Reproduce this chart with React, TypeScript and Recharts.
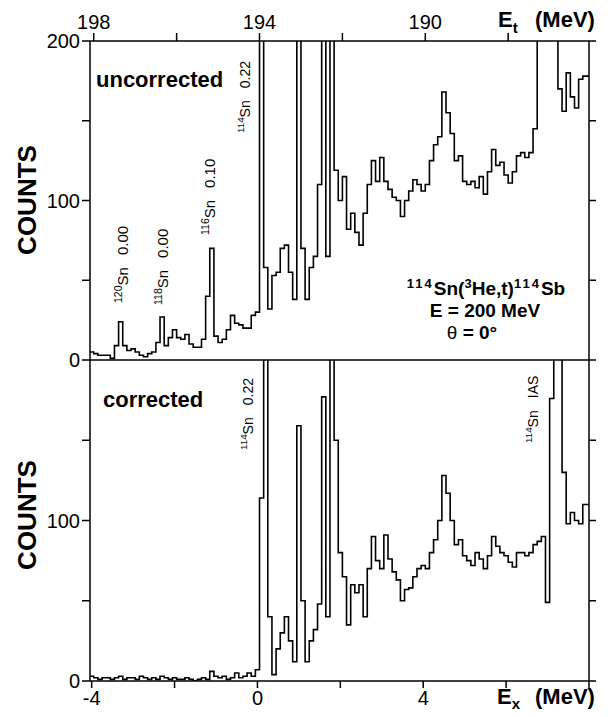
import React from "react";
import { LineChart, Line, XAxis, YAxis, ReferenceLine } from "recharts";

// 0.1 MeV bins in E_x, first bin starting at -4.05 MeV
const BIN_START = -4.05;
const BIN_WIDTH = 0.1;
const X_END = 8;

// values above 200 run off the top of the frame
const uncorrectedCounts = [
  5, 4, 3, 3, 3, 1, 9, 24, 9, 6,
  7, 5, 3, 2, 4, 5, 11, 27, 9, 14,
  19, 14, 13, 16, 10, 8, 8, 13, 40, 70,
  15, 11, 13, 19, 28, 23, 22, 20, 20, 28,
  30, 250, 58, 32, 53, 55, 70, 72, 55, 38,
  250, 70, 38, 58, 65, 110, 250, 65, 250, 119,
  100, 115, 82, 92, 80, 72, 92, 110, 125, 112,
  127, 112, 107, 102, 100, 90, 100, 106, 113, 110,
  106, 110, 125, 135, 140, 168, 155, 142, 125, 128,
  112, 110, 112, 108, 115, 104, 118, 132, 122, 124,
  116, 111, 118, 128, 130, 127, 130, 145, 250, 250,
  250, 250, 250, 170, 156, 180, 165, 158, 176, 178,
];

const correctedCounts = [
  3, 2, 1, 2, 2, 1, 2, 3, 1, 2,
  2, 1, 3, 2, 1, 2, 1, 3, 2, 1,
  2, 1, 1, 2, 1, 0, 1, 2, 1, 6,
  3, 2, 3, 1, 2, 5, 2, 3, 5, 3,
  7, 114, 250, 40, 4, 20, 30, 40, 25, 12,
  159, 50, 12, 25, 32, 48, 177, 40, 250, 150,
  80, 65, 35, 60, 55, 60, 40, 70, 90, 75,
  70, 91, 76, 68, 63, 50, 57, 58, 65, 70,
  72, 70, 80, 88, 100, 128, 117, 100, 85, 88,
  78, 75, 72, 80, 76, 70, 78, 90, 84, 80,
  78, 74, 71, 80, 80, 78, 80, 85, 87, 90,
  49, 176, 250, 250, 130, 98, 105, 100, 98, 110,
];

const exTicks = [-4, -2, 0, 2, 4, 6, 8];
const exLabels = [-4, 0, 4];
const etTicks = [198, 196, 194, 192, 190, 188];
const etLabels = [198, 194, 190];
const ET_SUM = 194.05; // E_t = ET_SUM - E_x
const countTicksTop = [0, 50, 100, 150, 200];
const countTicksBottom = [0, 50, 100, 150];

const FONT = "'Liberation Sans', Arial, Helvetica, sans-serif";
const INK = "#000";

function toSteps(counts: number[]) {
  const pts = counts.map((c, i) => ({ x: +(BIN_START + i * BIN_WIDTH).toFixed(2), y: c }));
  pts.push({ x: X_END, y: counts[counts.length - 1] });
  return pts;
}

const topData = toSteps(uncorrectedCounts);
const bottomData = toSteps(correctedCounts);

const tickStyle = { fill: INK, fontSize: 20, fontFamily: FONT };
const axisStroke = { stroke: INK, strokeWidth: 1.5 };

const hundreds = (v: number) => (v % 100 === 0 ? String(v) : "");

function PeakLabel({ x, y, iso, text, size = 15 }: { x: number; y: number; iso: string; text: string; size?: number }) {
  return (
    <text transform={`translate(${x},${y}) rotate(-90)`} fontFamily={FONT} fontSize={size} fill={INK}>
      <tspan fontSize={size * 0.7} dy={-size * 0.4}>{iso}</tspan>
      <tspan dy={size * 0.4}>Sn</tspan>
      <tspan dx={12}>{text}</tspan>
    </text>
  );
}

function Annotations() {
  return (
    <svg width={615} height={717} style={{ position: "absolute", left: 0, top: 0, pointerEvents: "none" }}>
      <text transform="translate(36,200) rotate(-90)" textAnchor="middle" fontFamily={FONT} fontWeight="bold" fontSize={26} fill={INK}>COUNTS</text>
      <text transform="translate(36,515) rotate(-90)" textAnchor="middle" fontFamily={FONT} fontWeight="bold" fontSize={26} fill={INK}>COUNTS</text>

      <text x={96} y={87} fontFamily={FONT} fontWeight="bold" fontSize={22} fill={INK}>uncorrected</text>
      <text x={103} y={407} fontFamily={FONT} fontWeight="bold" fontSize={22} fill={INK}>corrected</text>

      <PeakLabel x={128} y={303} iso="120" text="0.00" />
      <PeakLabel x={168} y={305} iso="118" text="0.00" />
      <PeakLabel x={215} y={235} iso="116" text="0.10" />
      <PeakLabel x={250} y={133} iso="114" text="0.22" size={14} />
      <PeakLabel x={253} y={450} iso="114" text="0.22" size={14} />
      <PeakLabel x={538} y={443} iso="114" text="IAS" size={14} />

      <text x={486} y={295} textAnchor="middle" fontFamily={FONT} fontWeight="bold" fontSize={19} fill={INK}>
        <tspan fontSize={13} dy={-7} letterSpacing={2}>114</tspan>
        <tspan dy={7}>Sn(</tspan>
        <tspan fontSize={13} dy={-7}>3</tspan>
        <tspan dy={7}>He,t)</tspan>
        <tspan fontSize={13} dy={-7} letterSpacing={2}>114</tspan>
        <tspan dy={7}>Sb</tspan>
      </text>
      <text x={485} y={317} textAnchor="middle" fontFamily={FONT} fontWeight="bold" fontSize={19} fill={INK}>E = 200 MeV</text>
      <text x={472} y={339} textAnchor="middle" fontFamily={FONT} fontWeight="bold" fontSize={19} fill={INK}>
        <tspan fontWeight="normal">θ</tspan> = 0°
      </text>

      <text x={498} y={27} fontFamily={FONT} fontWeight="bold" fontSize={22} fill={INK}>
        E<tspan fontSize={15} dy={6}>t</tspan>
        <tspan x={535} dy={-6}>(MeV)</tspan>
      </text>
      <text x={497} y={704} fontFamily={FONT} fontWeight="bold" fontSize={22} fill={INK}>
        E<tspan fontSize={15} dy={5}>x</tspan>
        <tspan x={535} dy={-5}>(MeV)</tspan>
      </text>
    </svg>
  );
}

export default function App() {
  return (
    <div style={{ position: "relative", width: 615, height: 717, margin: -8, background: "#fff", overflow: "hidden" }}>
      <div style={{ position: "absolute", left: 0, top: 350 }}>
        <LineChart width={615} height={367} data={bottomData} margin={{ top: 10, right: 16, bottom: 6, left: 40 }}>
          <XAxis
            xAxisId="ex"
            type="number"
            dataKey="x"
            domain={[-4.04, X_END]}
            allowDataOverflow
            ticks={exTicks}
            interval={0}
            tickFormatter={(v: number) => (exLabels.includes(v) ? String(v) : "")}
            height={30}
            tickSize={7}
            tickMargin={3}
            tick={tickStyle}
            axisLine={axisStroke}
            tickLine={axisStroke}
          />
          <YAxis
            yAxisId="l"
            type="number"
            domain={[0, 200]}
            allowDataOverflow
            ticks={countTicksBottom}
            interval={0}
            tickFormatter={hundreds}
            width={50}
            tickSize={8}
            tick={tickStyle}
            axisLine={axisStroke}
            tickLine={axisStroke}
          />
          <YAxis
            yAxisId="r"
            orientation="right"
            type="number"
            domain={[0, 200]}
            allowDataOverflow
            ticks={countTicksBottom}
            interval={0}
            tickFormatter={() => ""}
            width={10}
            tickSize={7}
            axisLine={axisStroke}
            tickLine={axisStroke}
          />
          <Line
            xAxisId="ex"
            yAxisId="l"
            type="stepAfter"
            dataKey="y"
            stroke={INK}
            strokeWidth={1.6}
            dot={false}
            isAnimationActive={false}
          />
        </LineChart>
      </div>
      <div style={{ position: "absolute", left: 0, top: 0 }}>
        <LineChart width={615} height={380} data={topData} margin={{ top: 11, right: 16, bottom: 20, left: 40 }}>
          <XAxis
            xAxisId="et"
            orientation="top"
            type="number"
            dataKey="x"
            domain={[-4.04, X_END]}
            allowDataOverflow
            ticks={etTicks.map((e) => +(ET_SUM - e).toFixed(2))}
            interval={0}
            tickFormatter={(v: number) => {
              const e = Math.round(ET_SUM - v);
              return etLabels.includes(e) ? String(e) : "";
            }}
            height={30}
            tickSize={8}
            tickMargin={4}
            tick={tickStyle}
            axisLine={axisStroke}
            tickLine={axisStroke}
          />
          <YAxis
            yAxisId="l"
            type="number"
            domain={[0, 200]}
            allowDataOverflow
            ticks={countTicksTop}
            interval={0}
            tickFormatter={hundreds}
            width={50}
            tickSize={8}
            tick={tickStyle}
            axisLine={axisStroke}
            tickLine={axisStroke}
          />
          <YAxis
            yAxisId="r"
            orientation="right"
            type="number"
            domain={[0, 200]}
            allowDataOverflow
            ticks={countTicksTop}
            interval={0}
            tickFormatter={() => ""}
            width={10}
            tickSize={7}
            axisLine={axisStroke}
            tickLine={axisStroke}
          />
          <ReferenceLine xAxisId="et" yAxisId="l" y={0} stroke={INK} strokeWidth={1.5} />
          <Line
            xAxisId="et"
            yAxisId="l"
            type="stepAfter"
            dataKey="y"
            stroke={INK}
            strokeWidth={1.6}
            dot={false}
            isAnimationActive={false}
          />
        </LineChart>
      </div>
      <Annotations />
    </div>
  );
}
